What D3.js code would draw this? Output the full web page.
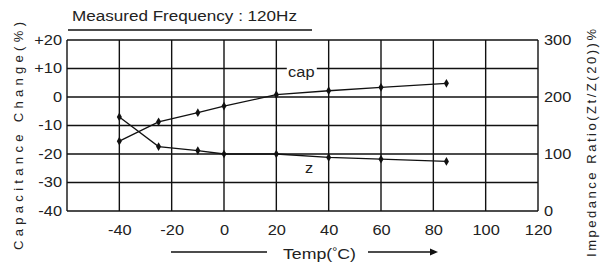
<!DOCTYPE html>
<html>
<head>
<meta charset="utf-8">
<script src="https://cdn.jsdelivr.net/npm/d3@7"></script>
<style>
  body { margin: 0; background: #fff; }
  text { font-family: "Liberation Sans", Arial, sans-serif; fill: #222; }
</style>
</head>
<body>
<div id="chart"></div>
<script>
// data
const temps = [-40, -25, -10, 0, 20, 40, 60, 85]
const capValues = [-15.5, -8.7, -5.5, -3.2, 0.8, 2.2, 3.4, 4.8]
const zValues = [165, 113, 106, 100, 100, 94, 91, 87]
const xTicks = [-40, -20, 0, 20, 40, 60, 80, 100, 120]
const xGrid = [-60, -40, -20, 0, 20, 40, 60, 80, 100, 120]
const capTicks = [20, 10, 0, -10, -20, -30, -40]
const zTicks = [0, 100, 200, 300]

const W = 603, H = 264
let margin = { top: 40, right: 65, bottom: 53, left: 67 },
  w = W - margin.left - margin.right,
  h = H - margin.top - margin.bottom

let svg = d3.select('#chart').append('svg')
  .attr('width', W)
  .attr('height', H)

let g = svg.append('g')
  .attr('transform', 'translate(' + margin.left + ',' + margin.top + ')')

let x = d3.scaleLinear().domain([-60, 120]).range([0, w])
let yCap = d3.scaleLinear().domain([-40, 20]).range([h, 0])
let yZ = d3.scaleLinear().domain([0, 300]).range([h, 0])

// the scanned font is wide, so widen the glyphs a bit
function stretch(sel, k) {
  sel.each(function() {
    let len = this.getComputedTextLength()
    d3.select(this).attr('textLength', len * k).attr('lengthAdjust', 'spacingAndGlyphs')
  })
}

// grid + frame
g.selectAll('line.vgrid').data(xGrid).enter().append('line')
  .attr('class', 'vgrid')
  .attr('x1', d => x(d)).attr('x2', d => x(d))
  .attr('y1', 0).attr('y2', h)
  .attr('stroke', '#111').attr('stroke-width', 1.4)
g.selectAll('line.hgrid').data(capTicks).enter().append('line')
  .attr('class', 'hgrid')
  .attr('x1', 0).attr('x2', w)
  .attr('y1', d => yCap(d)).attr('y2', d => yCap(d))
  .attr('stroke', '#111').attr('stroke-width', 1.4)

// axes (labels only)
let fs = '14px'
let ax = g.append('g').attr('transform', 'translate(0,' + h + ')')
  .call(d3.axisBottom(x).tickValues(xTicks).tickFormat(d => String(d)).tickSize(0).tickPadding(14))
let ay = g.append('g')
  .call(d3.axisLeft(yCap).tickValues(capTicks).tickFormat(d => d > 0 ? '+' + d : String(d)).tickSize(0).tickPadding(5))
let az = g.append('g').attr('transform', 'translate(' + w + ',0)')
  .call(d3.axisRight(yZ).tickValues(zTicks).tickFormat(d => String(d)).tickSize(0).tickPadding(6))
;[ax, ay, az].forEach(a => {
  a.select('.domain').remove()
  a.selectAll('text').attr('font-size', fs).attr('fill', '#222')
    .attr('font-family', '"Liberation Sans", Arial, sans-serif')
  stretch(a.selectAll('text'), 1.17)
})

// series
let capLine = d3.line().x((d, i) => x(temps[i])).y(d => yCap(d))
let zLine = d3.line().x((d, i) => x(temps[i])).y(d => yZ(d))

g.append('path').attr('d', capLine(capValues))
  .attr('fill', 'none').attr('stroke', '#111').attr('stroke-width', 1.3)
g.append('path').attr('d', zLine(zValues))
  .attr('fill', 'none').attr('stroke', '#111').attr('stroke-width', 1.3)

let sym = d3.symbol().type(d3.symbolDiamond).size(22)
g.selectAll('path.capPt').data(capValues).enter().append('path')
  .attr('class', 'capPt')
  .attr('d', sym)
  .attr('transform', (d, i) => 'translate(' + x(temps[i]) + ',' + yCap(d) + ')')
  .attr('fill', '#111')
g.selectAll('path.zPt').data(zValues).enter().append('path')
  .attr('class', 'zPt')
  .attr('d', sym)
  .attr('transform', (d, i) => 'translate(' + x(temps[i]) + ',' + yZ(d) + ')')
  .attr('fill', '#111')

// series labels
g.append('rect').attr('x', x(24)).attr('y', yCap(10) - 7).attr('width', 30).attr('height', 14).attr('fill', '#fff')
let capLbl = g.append('text').attr('x', x(24.5)).attr('y', yCap(10) + 8).attr('font-size', fs).text('cap')
let zLbl = g.append('text').attr('x', x(31)).attr('y', yCap(-25) + 5).attr('font-size', fs).text('z')
stretch(capLbl, 1.17)
stretch(zLbl, 1.17)

// title
svg.append('text').attr('x', 72).attr('y', 21).attr('font-size', '14px')
  .attr('textLength', 225).attr('lengthAdjust', 'spacingAndGlyphs')
  .text('Measured Frequency : 120Hz')
svg.append('line').attr('x1', 68).attr('x2', 312).attr('y1', 30).attr('y2', 30)
  .attr('stroke', '#111').attr('stroke-width', 1.4)

// left axis title
svg.append('text')
  .attr('transform', 'translate(23,136) rotate(-90)')
  .attr('text-anchor', 'middle')
  .attr('font-size', '13px')
  .attr('textLength', 228).attr('lengthAdjust', 'spacing')
  .attr('fill', '#555')
  .text('Capacitance Change(%)')

// right axis title
svg.append('text')
  .attr('transform', 'translate(596,143) rotate(-90)')
  .attr('text-anchor', 'middle')
  .attr('font-size', '13px')
  .attr('textLength', 228).attr('lengthAdjust', 'spacing')
  .attr('fill', '#555')
  .text('Impedance Ratio(Zt/Z(20))%')

// x axis title with arrow
let xt = svg.append('text').attr('x', 283).attr('y', 259).attr('font-size', '14px')
  .attr('textLength', 73).attr('lengthAdjust', 'spacingAndGlyphs')
xt.append('tspan').text('Temp(')
xt.append('tspan').attr('dy', -4).attr('font-size', '10px').text('°')
xt.append('tspan').attr('dy', 4).text('C)')
svg.append('line').attr('x1', 171).attr('x2', 267).attr('y1', 252).attr('y2', 252)
  .attr('stroke', '#111').attr('stroke-width', 1.4)
svg.append('line').attr('x1', 368).attr('x2', 432).attr('y1', 252).attr('y2', 252)
  .attr('stroke', '#111').attr('stroke-width', 1.4)
svg.append('path').attr('d', 'M430,248.5L438,252L430,255.5Z').attr('fill', '#111')
</script>
</body>
</html>
